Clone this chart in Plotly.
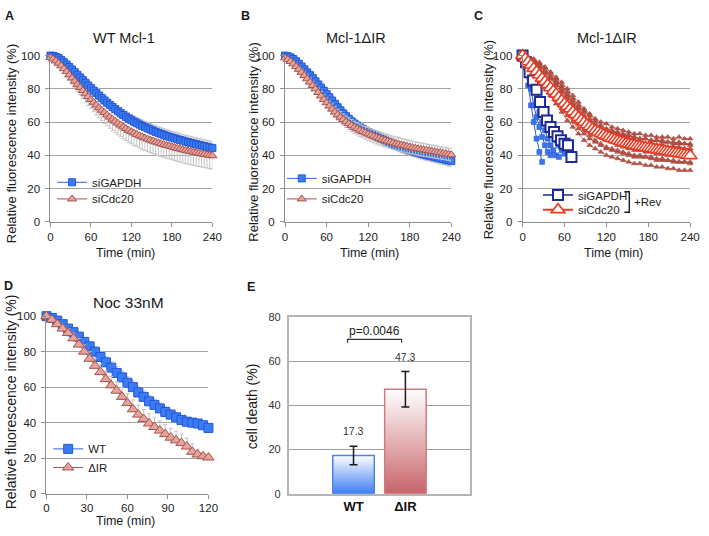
import plotly.graph_objects as go

W, H = 709, 536
FONT = "Liberation Sans, Arial, Helvetica, sans-serif"

# ---------------- data ----------------
t4 = list(range(0, 241, 4))
t8 = list(range(0, 241, 8))

# Panel A: WT Mcl-1
a_gapdh = [100, 99.8, 99.3, 98.5, 97.4, 96.0, 94.6, 93.1, 91.6, 90.0, 88.4, 86.8, 85.2, 83.6, 82.0,
           80.4, 78.9, 77.4, 75.9, 74.4, 73.0, 71.6, 70.3, 69.0, 67.7, 66.5, 65.3, 64.2, 63.1, 62.1,
           61.1, 60.2, 59.3, 58.5, 57.7, 56.9, 56.2, 55.5, 54.8, 54.1, 53.5, 52.9, 52.3, 51.7, 51.2,
           50.7, 50.2, 49.7, 49.2, 48.8, 48.3, 47.9, 47.5, 47.1, 46.7, 46.3, 45.9, 45.5, 45.1, 44.7, 44.3]
a_gapdh_err = [0.5, 0.8, 1.0, 1.2, 1.5, 1.5, 1.8, 2.0, 2.0, 2.2, 2.4,
               2.5, 2.6, 2.7, 2.8, 2.9, 3.0, 3.0, 3.1, 3.1, 3.2, 3.2, 3.3, 3.3, 3.3, 3.4, 3.4, 3.4, 3.5, 3.5, 3.5,
               3.5, 3.5, 3.6, 3.6, 3.6, 3.6, 3.6, 3.6, 3.7, 3.7, 3.7, 3.7, 3.7, 3.7, 3.7, 3.8, 3.8, 3.8, 3.8, 3.8,
               3.8, 3.8, 3.8, 3.8, 3.8, 3.9, 3.9, 3.9, 3.9, 3.9]
a_cdc20 = [98.8, 97.9, 96.8, 95.4, 93.8, 92.1, 90.3, 88.4, 86.5, 84.6, 82.7, 80.8, 78.9, 77.0, 75.3,
           73.6, 71.9, 70.2, 68.6, 67.1, 65.7, 64.3, 63.0, 61.7, 60.5, 59.3, 58.2, 57.1, 56.1, 55.1,
           54.2, 53.4, 52.6, 51.8, 51.1, 50.4, 49.8, 49.2, 48.6, 48.0, 47.5, 47.0, 46.5, 46.0, 45.6,
           45.1, 44.7, 44.2, 43.8, 43.4, 43.0, 42.6, 42.3, 41.9, 41.6, 41.2, 40.9, 40.6, 40.3, 40.0, 39.7]
a_cdc20_err = [0.5, 1.0, 1.5, 2.0, 2.3, 2.6, 3.0, 3.3, 3.6, 3.9, 4.2,
               4.5, 4.8, 5.0, 5.3, 5.5, 5.7, 5.9, 6.1, 6.3, 6.5, 6.6, 6.7, 6.8, 6.9, 7.0, 7.1, 7.2, 7.2, 7.3, 7.3,
               7.4, 7.4, 7.5, 7.5, 7.5, 7.6, 7.6, 7.6, 7.7, 7.7, 7.7, 7.7, 7.8, 7.8, 7.8, 7.8, 7.8, 7.9, 7.9, 7.9,
               7.9, 7.9, 8.0, 8.0, 8.0, 8.0, 8.0, 8.0, 8.0, 8.0]

# Panel B: Mcl-1ΔIR
b_gapdh = [100, 99.6, 98.9, 97.9, 96.6, 95.0, 93.4, 91.7, 89.9, 88.2, 86.4, 84.5, 82.6, 80.7, 78.8,
           76.9, 74.9, 72.9, 70.9, 68.9, 67.0, 65.2, 63.5, 61.9, 60.4, 59.1, 57.9, 56.8, 55.8, 54.9,
           54.0, 53.1, 52.2, 51.4, 50.6, 49.8, 49.0, 48.2, 47.5, 46.8, 46.1, 45.4, 44.8, 44.2, 43.6,
           43.0, 42.5, 42.0, 41.5, 41.0, 40.5, 40.1, 39.7, 39.3, 38.9, 38.5, 38.1, 37.7, 37.3, 36.9, 36.5]
b_gapdh_err = [0.5, 0.7, 0.9, 1.1, 1.3, 1.5, 1.6, 1.7, 1.8, 1.9, 2.0,
               2.1, 2.1, 2.2, 2.2, 2.3, 2.3, 2.4, 2.4, 2.5, 2.5, 2.5, 2.6, 2.6, 2.6, 2.7, 2.7, 2.7, 2.8, 2.8, 2.8,
               2.8, 2.9, 2.9, 2.9, 2.9, 3.0, 3.0, 3.0, 3.0, 3.0, 3.0, 3.1, 3.1, 3.1, 3.1, 3.1, 3.1, 3.2, 3.2, 3.2,
               3.2, 3.2, 3.2, 3.2, 3.3, 3.3, 3.3, 3.3, 3.3, 3.3]
b_cdc20 = [98.6, 97.6, 96.4, 95.0, 93.4, 91.7, 89.9, 88.0, 86.0, 84.0, 82.0, 79.9, 77.8, 75.7, 73.6,
           71.6, 69.6, 67.8, 66.0, 64.4, 62.9, 61.5, 60.2, 59.0, 57.9, 56.9, 56.0, 55.1, 54.3, 53.5,
           52.8, 52.1, 51.4, 50.8, 50.2, 49.6, 49.0, 48.5, 48.0, 47.5, 47.0, 46.6, 46.2, 45.8, 45.4,
           45.0, 44.6, 44.2, 43.9, 43.6, 43.3, 43.0, 42.7, 42.4, 42.1, 41.8, 41.5, 41.2, 40.9, 40.6, 40.3]
b_cdc20_err = [0.5, 0.8, 1.0, 1.3, 1.5, 1.7, 1.9, 2.0, 2.2, 2.3, 2.4,
               2.5, 2.6, 2.7, 2.8, 2.9, 3.0, 3.1, 3.2, 3.3, 3.4, 3.5, 3.5, 3.6, 3.6, 3.7, 3.7, 3.8, 3.8, 3.8, 3.9,
               3.9, 3.9, 4.0, 4.0, 4.0, 4.0, 4.0, 4.0, 4.0, 4.0, 4.0, 4.0, 4.0, 4.0, 4.0, 3.9, 3.9, 3.9, 3.9, 3.9,
               3.8, 3.8, 3.8, 3.8, 3.8, 3.7, 3.7, 3.7, 3.7, 3.7]

# Panel C: Mcl-1ΔIR + Rev (single cells and means)
c_cdc20_mean = [100, 98.2, 96.3, 94.3, 92.3, 90.3, 88.3, 86.3, 84.4, 82.5, 80.6, 78.7, 76.8, 74.9, 73.0,
                71.1, 69.5, 67.9, 66.2, 64.5, 62.9, 61.3, 59.8, 58.4, 57.1, 55.9, 54.9, 54.0, 53.1, 52.3,
                51.5, 50.8, 50.1, 49.5, 48.9, 48.3, 47.8, 47.3, 46.8, 46.4, 46.0, 45.6, 45.2, 44.9, 44.6,
                44.3, 44.0, 43.7, 43.4, 43.1, 42.8, 42.5, 42.2, 41.9, 41.6, 41.3, 41.0, 40.7, 40.4, 40.1, 39.8]
c_cdc20_cells = [
    [100, 99, 97, 95, 93, 90, 87, 84, 80, 76, 72, 68, 65, 62, 60, 59, 57, 56, 55, 54, 53, 53, 52, 52, 51, 51, 51, 50, 51, 50, 50],
    [100, 98, 95, 92, 89, 86, 82, 78, 74, 70, 66, 63, 60, 57, 55, 53, 52, 52, 50, 50, 48, 48, 47, 47, 46, 46, 45, 45, 45, 44, 44],
    [100, 97, 93, 89, 85, 81, 77, 73, 69, 65, 61, 58, 55, 53, 51, 49, 48, 46, 45, 44, 43, 43, 42, 42, 41, 41, 40, 40, 40, 39, 39],
    [100, 96, 91, 86, 82, 77, 73, 68, 64, 60, 56, 53, 50, 48, 46, 44, 43, 42, 41, 40, 39, 39, 39, 38, 37, 37, 37, 36, 36, 36, 35],
    [100, 96, 91, 86, 81, 76, 71, 66, 61, 57, 53, 49, 46, 44, 42, 40, 39, 38, 37, 36, 35, 35, 34, 34, 33, 33, 32, 32, 31, 31, 31],
    [100, 99, 98, 96, 93, 90, 86, 81, 76, 71, 66, 62, 59, 57, 56, 55, 54, 53, 52, 52, 51, 50, 50, 49, 49, 49, 48, 48, 47, 47, 47],
    [100, 98, 96, 93, 90, 86, 83, 79, 75, 71, 68, 64, 61, 58, 56, 54, 53, 51, 50, 49, 49, 48, 47, 47, 46, 46, 45, 45, 44, 44, 43],
    [100, 99, 96, 94, 91, 88, 85, 82, 78, 74, 70, 67, 64, 61, 58, 56, 55, 54, 53, 52, 51, 50, 50, 49, 49, 48, 48, 47, 48, 47, 46],
    [100, 97, 94, 90, 86, 82, 77, 72, 67, 63, 59, 55, 52, 49, 47, 45, 44, 43, 42, 41, 40, 40, 39, 39, 38, 38, 37, 37, 36, 36, 36],
    [100, 98, 97, 94, 91, 87, 84, 80, 77, 73, 69, 66, 62, 59, 57, 55, 53, 52, 51, 50, 49, 48, 47, 46, 46, 45, 44, 44, 43, 43, 42],
]
c_gapdh_mean_t = [0, 5, 10, 15, 20, 25, 30, 35, 40, 45, 50, 55, 60, 65, 70]
c_gapdh_mean = [100, 96, 90, 85, 79.5, 72, 66, 61, 57, 54, 51.5, 49, 47, 46, 39]
c_gapdh_cells = [
    [100, 93, 82, 70, 60, 50, 42, 36],
    [100, 97, 90, 80, 70, 63, 57, 51, 46, 42, 40],
    [100, 98, 95, 88, 80, 72, 66, 60, 55, 50, 46, 43, 40, 39],
    [100, 99, 97, 93, 87, 80, 74, 69, 64, 60, 56, 52, 49, 46, 43, 41],
]

# Panel D: Noc 33nM
d_t = list(range(0, 121, 4))
d_wt = [100, 99, 97.5, 95.5, 93, 91, 88.5, 85.5, 83, 80, 77, 74, 71, 68, 65.5, 62.5,
        60, 57, 54.5, 52, 50, 48, 46, 44.5, 43, 41.5, 40.5, 40, 39.5, 38.5, 37]
d_wt_err = [0.5, 0.8, 1.0, 1.3, 1.5, 1.8, 2.0, 2.3, 2.5, 2.8, 3.0, 3.2, 3.4, 3.5, 3.6, 3.6,
            3.6, 3.5, 3.4, 3.3, 3.2, 3.0, 2.9, 2.8, 2.6, 2.5, 2.4, 2.2, 2.0, 1.8, 1.5]
d_dir = [100, 98, 95.5, 93, 90.5, 87.5, 84, 80, 76, 72, 68.5, 64.5, 61, 58, 54.5, 51,
         47.5, 44.5, 42, 39.5, 37.5, 35.5, 33.5, 31.5, 30, 28.5, 26.5, 23.5, 22, 21, 20.3]
d_dir_err = [0.5, 1.0, 1.5, 2.0, 2.5, 3.0, 3.5, 3.8, 4.0, 4.2, 4.5, 4.7, 5.0, 5.0, 5.2, 5.3,
             5.3, 5.4, 5.4, 5.5, 5.5, 5.5, 5.4, 5.3, 5.2, 5.0, 4.8, 4.5, 3.0, 2.0, 1.5]

# Panel E: cell death
e_cats = ["WT", "ΔIR"]
e_vals = [17.3, 47.3]
e_err = [4.2, 8.0]
e_labels = ["17.3", "47.3"]
e_pvalue = "p=0.0046"

# ---------------- styling helpers ----------------
def px(x):
    return x / W

def py(y):
    return 1 - y / H

BLUE_FILL, BLUE_LINE = "#3b7cf3", "#2457d6"
SAL_FILL, SAL_LINE = "#e6a39b", "#a5534d"
ERR_GRAY = "#c4c4c4"
GRID = "#a3a3a3"
AXC = "#8e8e8e"

fig = go.Figure()

def blue_trace(x, y, err, ax, leg, name, size=7, plus=True, minus=False):
    e = dict(type="data", array=err if plus else [0] * len(err),
             arrayminus=err if minus else [0] * len(err), symmetric=False,
             color=ERR_GRAY, thickness=1, width=2)
    return go.Scatter(x=x, y=y, mode="lines+markers", name=name,
                      line=dict(color="#2d62e2", width=1),
                      marker=dict(symbol="square", size=size, color=BLUE_FILL,
                                  line=dict(color=BLUE_LINE, width=1)),
                      error_y=e, xaxis="x" + ax, yaxis="y" + ax, legend=leg,
                      cliponaxis=False, hoverinfo="skip")

def sal_trace(x, y, err, ax, leg, name, size=8, plus=False, minus=True):
    e = dict(type="data", array=err if plus else [0] * len(err),
             arrayminus=err if minus else [0] * len(err), symmetric=False,
             color=ERR_GRAY, thickness=1, width=2)
    return go.Scatter(x=x, y=y, mode="lines+markers", name=name,
                      line=dict(color=SAL_LINE, width=1),
                      marker=dict(symbol="triangle-up", size=size, color=SAL_FILL,
                                  line=dict(color=SAL_LINE, width=1)),
                      error_y=e, xaxis="x" + ax, yaxis="y" + ax, legend=leg,
                      cliponaxis=False, hoverinfo="skip")

# Panel A
fig.add_trace(blue_trace(t4, a_gapdh, a_gapdh_err, "", "legend", "siGAPDH"))
fig.add_trace(sal_trace(t4, a_cdc20, a_cdc20_err, "", "legend2", "siCdc20"))
# Panel B
fig.add_trace(blue_trace(t4, b_gapdh, b_gapdh_err, "2", "legend3", "siGAPDH", plus=True, minus=True))
fig.add_trace(sal_trace(t4, b_cdc20, b_cdc20_err, "2", "legend4", "siCdc20", plus=True, minus=True))

# Panel C
for cell in c_cdc20_cells:
    fig.add_trace(go.Scatter(x=t8, y=cell, mode="lines+markers", showlegend=False,
                             line=dict(color="#b24a40", width=0.8),
                             marker=dict(symbol="triangle-up", size=5, color="#b8544a",
                                         line=dict(color="#9e3c33", width=0.5)),
                             xaxis="x3", yaxis="y3", cliponaxis=False, hoverinfo="skip"))
for cell in c_gapdh_cells:
    fig.add_trace(go.Scatter(x=t4[:len(cell)], y=cell, mode="lines+markers", showlegend=False,
                             line=dict(color="#2a5ad8", width=1),
                             marker=dict(symbol="square", size=5, color="#3b72ee",
                                         line=dict(color="#2456d0", width=0.5)),
                             xaxis="x3", yaxis="y3", cliponaxis=False, hoverinfo="skip"))
fig.add_trace(go.Scatter(x=c_gapdh_mean_t, y=c_gapdh_mean, mode="lines+markers", name="siGAPDH",
                         line=dict(color="#1c2a93", width=1.5),
                         marker=dict(symbol="square", size=10, color="white",
                                     line=dict(color="#1c2a93", width=2)),
                         xaxis="x3", yaxis="y3", legend="legend5", cliponaxis=False, hoverinfo="skip"))
fig.add_trace(go.Scatter(x=t4, y=c_cdc20_mean, mode="lines+markers", name="siCdc20",
                         line=dict(color="#ea3a22", width=2),
                         marker=dict(symbol="triangle-up", size=12, color="white",
                                     line=dict(color="#ea3a22", width=1.6)),
                         xaxis="x3", yaxis="y3", legend="legend6", cliponaxis=False, hoverinfo="skip"))

# Panel D
fig.add_trace(blue_trace(d_t, d_wt, d_wt_err, "4", "legend7", "WT", size=9))
fig.add_trace(sal_trace(d_t, d_dir, d_dir_err, "4", "legend8", "ΔIR", size=10, plus=True, minus=False))

# Panel E: gradient bars
bar_w = 0.8
bar_base = ["#3f7df3", "#c7646a"]
bar_edge = ["#4c82e8", "#cf7a7f"]
for i, v in enumerate(e_vals):
    x0, x1 = i - bar_w / 2, i + bar_w / 2
    fig.add_trace(go.Scatter(x=[x0, x0, x1, x1, x0], y=[0, v, v, 0, 0], mode="lines",
                             fill="toself",
                             fillgradient=dict(type="vertical",
                                               colorscale=[[0, bar_base[i]], [1, "#ffffff"]]),
                             line=dict(color=bar_edge[i], width=1.5),
                             xaxis="x5", yaxis="y5", showlegend=False, hoverinfo="skip"))
fig.add_trace(go.Scatter(x=list(range(len(e_vals))), y=e_vals, mode="markers",
                         marker=dict(size=1, opacity=0),
                         error_y=dict(type="data", array=e_err, color="#1a1a1a", thickness=1.5, width=4),
                         xaxis="x5", yaxis="y5", showlegend=False, hoverinfo="skip"))

# ---------------- axes ----------------
def xax(x0, x1, rng, ticks, anchor):
    return dict(domain=[px(x0), px(x1)], range=rng, tickvals=ticks, ticks="outside", ticklen=4,
                tickcolor=AXC, showline=True, linecolor=AXC, linewidth=1, showgrid=False,
                zeroline=False, tickfont=dict(size=11.5, color="#222", family=FONT),
                anchor=anchor, fixedrange=True)

def yax(y0, y1, anchor):
    return dict(domain=[py(y0), py(y1)], range=[0, 100], tickvals=[0, 20, 40, 60, 80, 100],
                ticks="outside", ticklen=4, tickcolor=AXC, showline=True, linecolor=AXC,
                linewidth=1, showgrid=True, gridcolor=GRID, gridwidth=1, zeroline=False,
                tickfont=dict(size=11.5, color="#222", family=FONT), anchor=anchor,
                fixedrange=True, ticklabelstandoff=3)

xt = [0, 60, 120, 180, 240]
layout = dict(
    width=W, height=H, margin=dict(l=0, r=0, t=0, b=0),
    paper_bgcolor="white", plot_bgcolor="white", font=dict(family=FONT, color="#1a1a1a"),
    hovermode=False,
    xaxis=xax(48.3, 213.3, [0, 240], xt, "y"), yaxis=yax(220.7, 50.7, "x"),
    xaxis2=xax(287.3, 456.7, [0, 240], xt, "y2"), yaxis2=yax(220.7, 50.7, "x2"),
    xaxis3=xax(529.3, 700, [0, 240], xt, "y3"), yaxis3=yax(220.7, 50.7, "x3"),
    xaxis4=xax(44.3, 209.3, [0, 120], [0, 30, 60, 90, 120], "y4"), yaxis4=yax(498.7, 317.3, "x4"),
    xaxis5=dict(domain=[px(291), px(476)], range=[-1.25, 2.25], tickvals=list(range(len(e_cats))),
                ticktext=e_cats, ticks="", showline=True, mirror=True, linecolor="#b5b5b5",
                linewidth=1.5, showgrid=False, zeroline=False, anchor="y5", fixedrange=True,
                tickfont=dict(size=13, color="#111", family=FONT, weight="bold")),
    yaxis5=dict(domain=[py(499), py(318)], range=[0, 80], tickvals=[0, 20, 40, 60, 80], ticks="",
                showline=True, mirror=True, linecolor="#b5b5b5", linewidth=1.5, showgrid=True,
                gridcolor="#9d9d9d", zeroline=False, anchor="x5", fixedrange=True,
                ticklabelstandoff=4, tickfont=dict(size=11, color="#333", family=FONT)),
)

# legends (one per entry for exact placement): text start x, item center y
leg_pos = {"legend": (90, 180), "legend2": (90, 197),
           "legend3": (324, 176), "legend4": (324, 197),
           "legend5": (585, 193), "legend6": (585, 208),
           "legend7": (86, 452.7), "legend8": (86, 471.7)}
for k, (tx, cy) in leg_pos.items():
    layout[k] = dict(x=px(tx - 40), y=py(cy - 14.5), xanchor="left", yanchor="top",
                     bgcolor="rgba(0,0,0,0)", borderwidth=0, itemwidth=30,
                     font=dict(size=11.5, color="#222", family=FONT))

fig.update_layout(**layout)

# masks behind legends (gridline gaps) + bracket shapes
shapes = []
for (x0, x1, yc) in [(50, 163, 186.7), (300, 372, 186.7), (537, 685, 186.7), (50, 106, 461.7)]:
    shapes.append(dict(type="rect", xref="paper", yref="paper", x0=px(x0), x1=px(x1),
                       y0=py(yc + 2), y1=py(yc - 2), fillcolor="white", line=dict(width=0),
                       layer="between"))
# "]" bracket in C legend
shapes.append(dict(type="path", xref="paper", yref="paper",
                   path=f"M {px(633)},{py(190)} L {px(638)},{py(190)} L {px(638)},{py(211)} L {px(633)},{py(211)}",
                   line=dict(color="#222", width=1.5)))
# significance bracket in E
shapes.append(dict(type="path", xref="x5", yref="y5",
                   path="M -0.115,68.3 L -0.115,69.8 L 0.926,69.8 L 0.926,68.3",
                   line=dict(color="#333", width=1.2)))
fig.update_layout(shapes=shapes)

def ann(text, x, y, size, bold=False, angle=0, xanchor="center", color="#1a1a1a"):
    return dict(text=text, x=px(x), y=py(y), xref="paper", yref="paper", showarrow=False,
                font=dict(size=size, family=FONT, color=color, weight="bold" if bold else "normal"),
                xanchor=xanchor, yanchor="middle", textangle=angle)

ylab = "Relative fluorescence intensity (%)"
anns = [
    ann("A", 7, 10, 12.5, bold=True), ann("B", 247, 10, 12.5, bold=True),
    ann("C", 484, 10, 12.5, bold=True), ann("D", 6, 286, 12.5, bold=True),
    ann("E", 253, 287, 12.5, bold=True),
    ann("WT Mcl-1", 123, 33, 14.5), ann("Mcl-1ΔIR", 360, 33, 14.5), ann("Mcl-1ΔIR", 615, 33, 14.5),
    ann("Noc 33nM", 128, 303, 15.5),
    ann(ylab, 8.5, 141, 13, angle=-90), ann(ylab, 255, 139.5, 13, angle=-90),
    ann(ylab, 495.5, 137, 13, angle=-90), ann(ylab, 8.5, 405, 14, angle=-90),
    ann("cell death (%)", 253, 409, 14, angle=-90),
    ann("Time (min)", 125, 253, 12.5), ann("Time (min)", 373, 253, 12.5),
    ann("Time (min)", 622, 253, 12.5), ann("Time (min)", 125, 527, 12.5),
    ann("+Rev", 641, 200, 11.5, xanchor="left"),
    ann(e_pvalue, 378, 332, 12, color="#222"),
]
for i, (lab, v, e) in enumerate(zip(e_labels, e_vals, e_err)):
    anns.append(dict(text=lab, x=i, y=v + e, xref="x5", yref="y5", showarrow=False,
                     yanchor="bottom", yshift=7, font=dict(size=10.5, family=FONT, color="#333")))
fig.update_layout(annotations=anns)

fig.write_html("out.html", config={"displayModeBar": False},
               post_script="document.body.style.margin='0';")
